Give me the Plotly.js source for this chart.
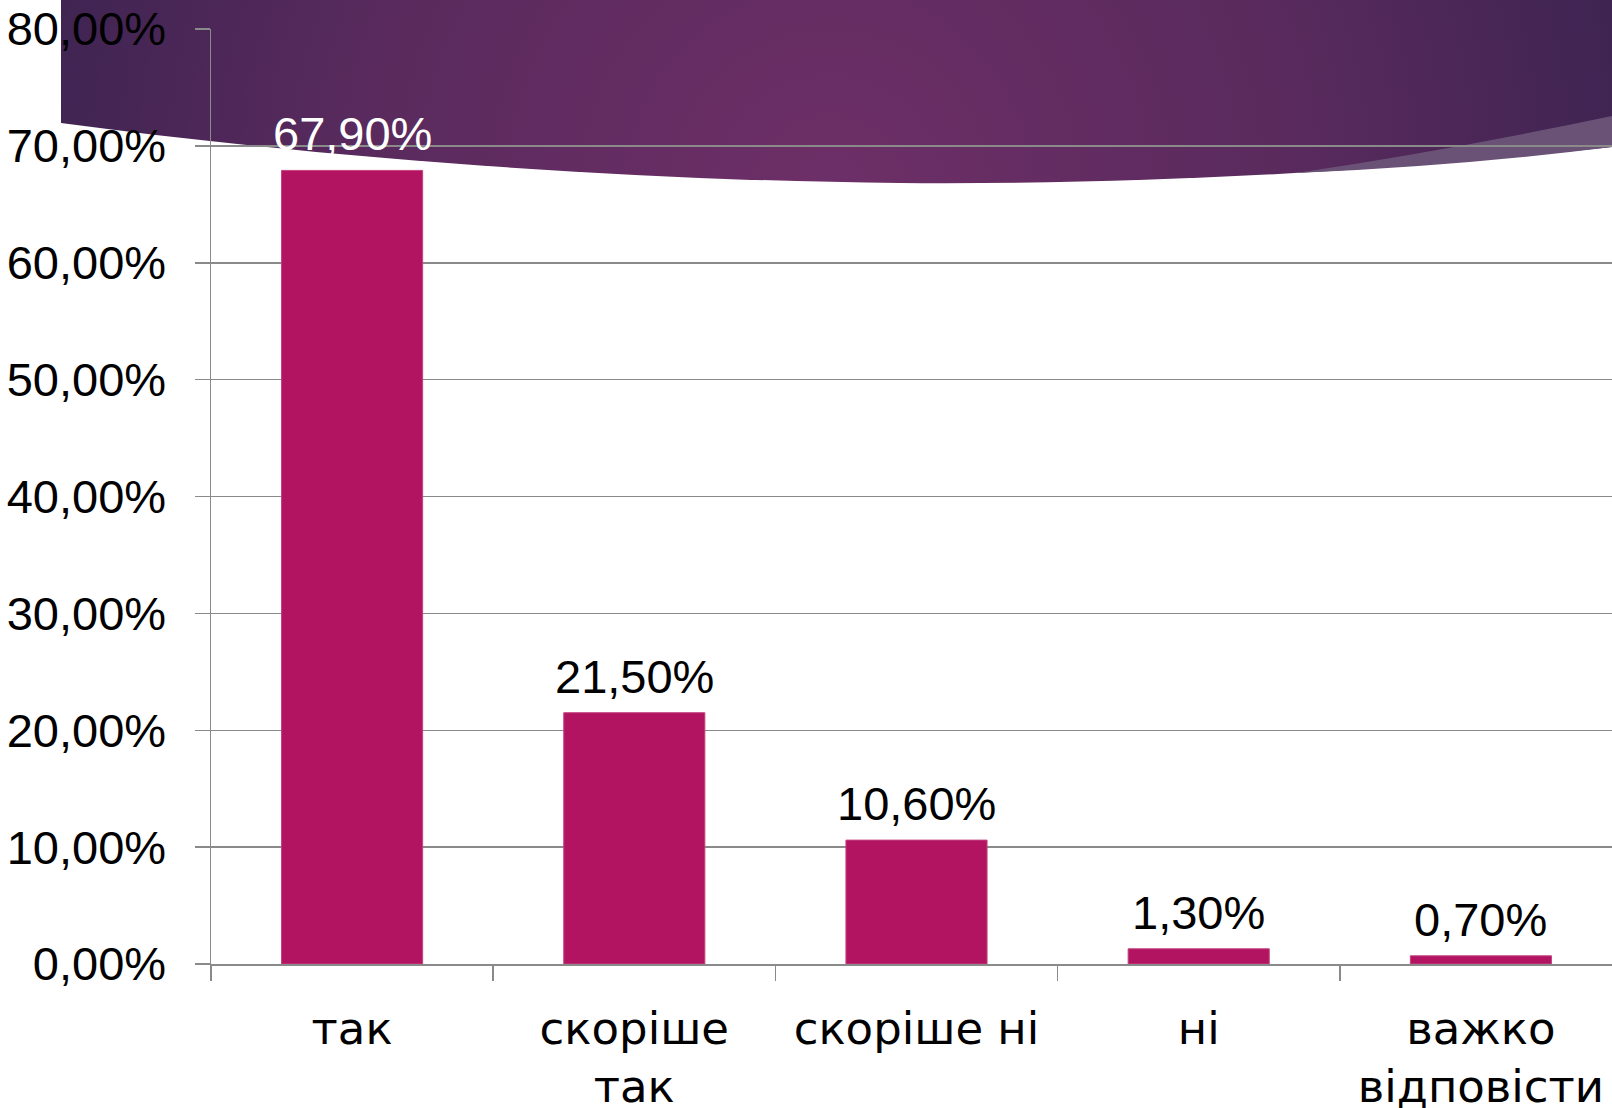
<!DOCTYPE html>
<html>
<head>
<meta charset="utf-8">
<script src="https://cdn.plot.ly/plotly-3.0.1.min.js"></script>
<style>
  html, body { margin: 0; padding: 0; background: #fff; overflow: hidden; }
  #chart { width: 1612px; height: 1108px; }
</style>
</head>
<body>
<div id="chart"></div>
<script>
// ---- data ----
const categories = ['так', 'скоріше<br>так', 'скоріше ні', 'ні', 'важко<br>відповісти'];
const values = [67.9, 21.5, 10.6, 1.3, 0.7];
const yTicks = [0, 10, 20, 30, 40, 50, 60, 70, 80];

// ---- style ----
const W = 1612, H = 1108;
const M = { l: 211, r: 0, t: 29, b: 144 };
const catWidthPx = 282.2;
const plotW = W - M.l - M.r, plotH = H - M.t - M.b;
const FONT = "'Century Gothic', 'Liberation Sans', Arial, sans-serif";
const FONT_X = "'Century Gothic', 'DejaVu Sans', 'Liberation Sans', sans-serif";
const barColor = '#b31462';
const gridColor = '#8a8a8a';

function fmt(v) { return v.toFixed(2).replace('.', ',') + '%'; }

// decorative banner (pixel coordinates of the full page)
const bannerSvg =
  '<svg xmlns="http://www.w3.org/2000/svg" width="1612" height="1108" viewBox="0 0 1612 1108" preserveAspectRatio="none">' +
  '<defs><radialGradient id="g" gradientUnits="userSpaceOnUse" cx="830" cy="190" r="860">' +
  '<stop offset="0" stop-color="#6d2f67"/><stop offset="0.55" stop-color="#592a5d"/>' +
  '<stop offset="1" stop-color="#3a2350"/></radialGradient></defs>' +
  '<path d="M61 0 L1612 0 L1612 147 C1400 170 1150 185 900 183 C600 180 300 155 61 123 Z" fill="url(#g)"/>' +
  '<path d="M1296 173 Q1450 150 1612 116 L1612 147 Q1460 166 1296 173 Z" fill="#6a5277"/>' +
  '</svg>';
const bannerSrc = 'data:image/svg+xml;charset=utf-8,' + encodeURIComponent(bannerSvg);

const trace = {
  type: 'bar',
  x: categories,
  y: values,
  marker: { color: barColor, line: { color: '#c4417d', width: 1 } },
  hoverinfo: 'none'
};

const annotations = categories.map((c, i) => ({
  x: c, y: values[i], xref: 'x', yref: 'y',
  text: fmt(values[i]),
  showarrow: false, yanchor: 'bottom', xanchor: 'center', yshift: 8,
  font: { family: FONT, size: 47, color: i === 0 ? '#ffffff' : '#000000' }
}));

const layout = {
  width: W, height: H,
  margin: M,
  paper_bgcolor: '#ffffff',
  plot_bgcolor: 'rgba(0,0,0,0)',
  showlegend: false,
  bargap: 0.5,
  font: { family: FONT, size: 48, color: '#000' },
  xaxis: {
    type: 'category',
    range: [-0.5, -0.5 + plotW / catWidthPx],
    showline: true, linecolor: gridColor, linewidth: 1.5,
    ticks: 'outside', tickson: 'boundaries', ticklen: 15, tickcolor: gridColor, tickwidth: 1.5,
    showgrid: false, zeroline: false,
    tickangle: 0,
    ticklabelstandoff: 24,
    tickfont: { family: FONT_X, size: 45, color: '#000' }
  },
  yaxis: {
    range: [0, 80],
    tickvals: yTicks,
    ticktext: yTicks.map(fmt),
    showline: true, linecolor: gridColor, linewidth: 1.5,
    ticks: 'outside', ticklen: 15, tickcolor: gridColor, tickwidth: 1.5,
    showgrid: true, gridcolor: gridColor, gridwidth: 1.5,
    zeroline: false,
    ticklabelstandoff: 19,
    tickfont: { family: FONT, size: 47, color: '#000' }
  },
  annotations: annotations,
  images: [{
    source: bannerSrc,
    xref: 'paper', yref: 'paper',
    x: -M.l / plotW, y: 1 + M.t / plotH,
    sizex: W / plotW, sizey: H / plotH,
    xanchor: 'left', yanchor: 'top',
    sizing: 'stretch', layer: 'below'
  }]
};

Plotly.newPlot('chart', [trace], layout, { staticPlot: true, displayModeBar: false });
</script>
</body>
</html>
